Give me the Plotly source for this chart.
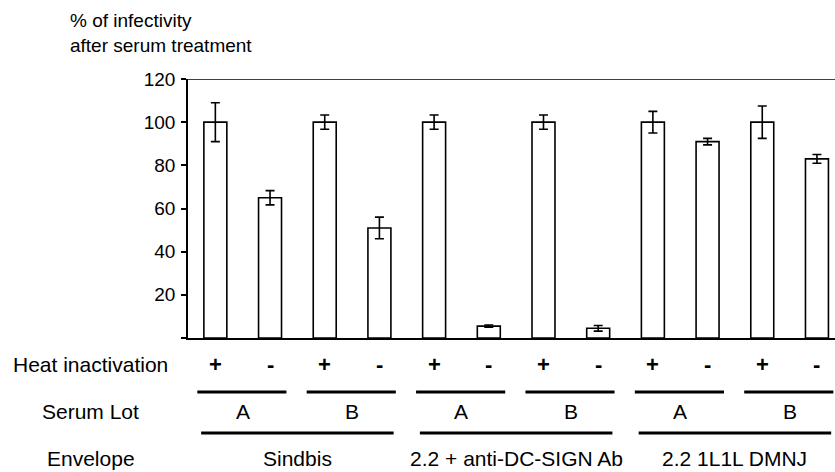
import plotly.graph_objects as go

# Data
bar_labels = ["Sindbis A +", "Sindbis A -", "Sindbis B +", "Sindbis B -",
              "DC-SIGN A +", "DC-SIGN A -", "DC-SIGN B +", "DC-SIGN B -",
              "DMNJ A +", "DMNJ A -", "DMNJ B +", "DMNJ B -"]
values = [100, 65, 100, 51, 100, 5.5, 100, 4.5, 100, 91, 100, 83]
errors = [9, 3.3, 3.3, 5, 3.3, 0.5, 3.3, 1.3, 5, 1.5, 7.5, 2]
heat_labels = ["+", "-", "+", "-", "+", "-", "+", "-", "+", "-", "+", "-"]
lot_labels = ["A", "B", "A", "B", "A", "B"]
envelope_labels = ["Sindbis", "2.2 + anti-DC-SIGN Ab", "2.2 1L1L DMNJ"]
y_ticks = [0, 20, 40, 60, 80, 100, 120]
y_ticktext = ["", "20", "40", "60", "80", "100", "120"]
row_labels = ["Heat inactivation", "Serum Lot", "Envelope"]

W, H = 835, 472
ML, MT, MB = 188, 79, 134
plot_h = H - MT - MB
plot_w = W - ML

def py(p):
    # pixel y -> paper coordinate
    return (H - MB - p) / plot_h

xs = list(range(len(values)))

fig = go.Figure()
fig.add_trace(go.Bar(
    x=xs, y=values, width=0.42,
    marker=dict(color="white", line=dict(color="black", width=1.6)),
    error_y=dict(type="data", array=errors, visible=True, color="black",
                 thickness=1.6, width=4.5),
    showlegend=False, hoverinfo="skip",
))

FONT = "Liberation Sans, Arial, sans-serif"
annotations = []
shapes = []

# Title (two lines)
annotations.append(dict(text="% of infectivity", xref="paper", yref="paper",
                        x=(68 - ML) / plot_w, y=py(20), xanchor="left", yanchor="middle",
                        showarrow=False, font=dict(size=19, color="black", family=FONT)))
annotations.append(dict(text="after serum treatment", xref="paper", yref="paper",
                        x=(68 - ML) / plot_w, y=py(45), xanchor="left", yanchor="middle",
                        showarrow=False, font=dict(size=19, color="black", family=FONT)))

# Row labels
for lab, p, anc in zip(row_labels, [364, 411, 472], ["middle", "middle", "bottom"]):
    annotations.append(dict(text=lab, xref="paper", yref="paper",
                            x=(91 - ML) / plot_w, y=py(p), xanchor="center", yanchor=anc,
                            showarrow=False, font=dict(size=21, color="black", family=FONT)))

# Heat inactivation +/-
for i, lab in enumerate(heat_labels):
    annotations.append(dict(text="<b>" + lab + "</b>", xref="x", yref="paper", x=xs[i], y=py(364),
                            xanchor="center", yanchor="middle", showarrow=False,
                            font=dict(size=22, color="black", family=FONT)))

# Serum lot lines and labels
for k, lab in enumerate(lot_labels):
    a, b = xs[2 * k], xs[2 * k + 1]
    shapes.append(dict(type="line", xref="x", yref="paper", x0=a - 0.33, x1=b + 0.3,
                       y0=py(392), y1=py(392), line=dict(color="black", width=3)))
    annotations.append(dict(text=lab, xref="x", yref="paper", x=(a + b) / 2, y=py(411),
                            xanchor="center", yanchor="middle", showarrow=False,
                            font=dict(size=21, color="black", family=FONT)))

# Envelope lines and labels
for k, lab in enumerate(envelope_labels):
    a, b = xs[4 * k], xs[4 * k + 3]
    shapes.append(dict(type="line", xref="x", yref="paper", x0=a - 0.26, x1=b + 0.26,
                       y0=py(433), y1=py(433), line=dict(color="black", width=3)))
    annotations.append(dict(text=lab, xref="x", yref="paper", x=(a + b) / 2, y=py(472),
                            xanchor="center", yanchor="bottom", showarrow=False,
                            font=dict(size=21, color="black", family=FONT)))

# Top line at 120
shapes.append(dict(type="line", xref="paper", yref="y", x0=0, x1=1, y0=120, y1=120,
                   line=dict(color="black", width=1.5)))

fig.update_layout(
    width=W, height=H,
    margin=dict(l=ML, r=0, t=MT, b=MB, pad=0),
    paper_bgcolor="white", plot_bgcolor="white",
    annotations=annotations, shapes=shapes,
    xaxis=dict(range=[-0.5, 11.33], showticklabels=False, ticks="", showgrid=False,
               zeroline=False, showline=True, linecolor="black", linewidth=1.5, fixedrange=True),
    yaxis=dict(range=[0, 120], tickvals=y_ticks, ticktext=y_ticktext, ticks="outside",
               ticklen=5, tickwidth=1.5, tickcolor="black", showgrid=False, zeroline=False,
               showline=True, linecolor="black", linewidth=1.5, ticklabelstandoff=2,
               fixedrange=True,
               tickfont=dict(size=19, color="black", family=FONT)),
)

fig.write_html("out.html", config={"displayModeBar": False},
               post_script="document.body.style.margin='0px';document.body.style.overflow='hidden';")
